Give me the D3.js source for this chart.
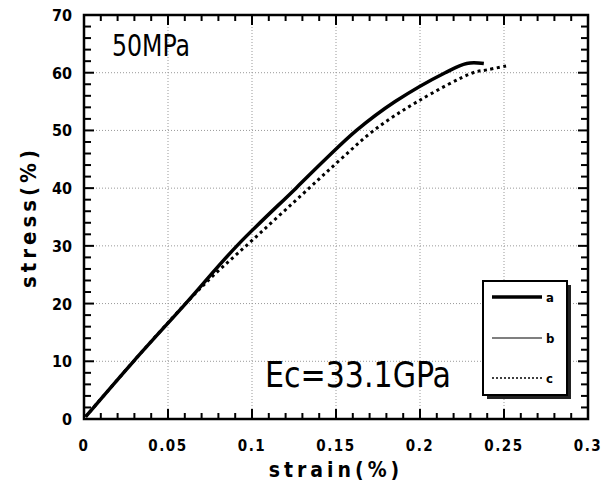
<!DOCTYPE html>
<html>
<head>
<meta charset="utf-8">
<script src="https://cdn.jsdelivr.net/npm/d3@7"></script>
<style>
  body { margin: 0; background: #fff; }
  text { font-family: "DejaVu Sans Condensed", "Liberation Sans Narrow", "DejaVu Sans", sans-serif; fill: #000; }
</style>
</head>
<body>
<div id="chart"></div>
<script>
// curve a (thick solid)
const curveA = [[0.001, 0.4], [0.0295, 10], [0.0605, 20], [0.0910, 30], [0.1262, 40], [0.1437, 45], [0.1622, 50], [0.1852, 55], [0.2150, 60], [0.2278, 61.6], [0.238, 61.6]];
// curve b (thin solid, lies under a)
const curveB = [[0.001, 0.4], [0.0295, 10], [0.0604, 20], [0.0908, 30], [0.1258, 40], [0.1434, 45], [0.1619, 50], [0.1849, 55], [0.2147, 60], [0.2275, 61.5], [0.2375, 61.5]];
// curve c (dotted)
const curveC = [[0.001, 0.4], [0.0295, 10], [0.0605, 20], [0.0775, 25], [0.0965, 30], [0.1340, 40], [0.1528, 45], [0.1725, 50], [0.1985, 55], [0.2316, 60], [0.2400, 60.5], [0.2516, 61.2]];

const xTicks = [0, 0.05, 0.1, 0.15, 0.2, 0.25, 0.3];
const xTickLabels = ['0', '0.05', '0.1', '0.15', '0.2', '0.25', '0.3'];
const yTicks = [0, 10, 20, 30, 40, 50, 60, 70];
const seriesNames = ['a', 'b', 'c'];

const width = 607, height = 493;
const margin = { left: 84, right: 19, top: 15, bottom: 74 };

const svg = d3.select('#chart').append('svg')
    .attr('width', width)
    .attr('height', height);

const x = d3.scaleLinear().domain([0, 0.3]).range([margin.left, width - margin.right]);
const y = d3.scaleLinear().domain([0, 70]).range([height - margin.bottom, margin.top]);

// grid
svg.append('g').selectAll('line')
    .data(xTicks.slice(1, -1))
    .join('line')
    .attr('x1', d => x(d)).attr('x2', d => x(d))
    .attr('y1', y(70)).attr('y2', y(0))
    .attr('stroke', '#999').attr('stroke-width', 1).attr('stroke-dasharray', '1,2');
svg.append('g').selectAll('line')
    .data(yTicks.slice(1, -1))
    .join('line')
    .attr('x1', x(0)).attr('x2', x(0.3))
    .attr('y1', d => y(d)).attr('y2', d => y(d))
    .attr('stroke', '#999').attr('stroke-width', 1).attr('stroke-dasharray', '1,2');

// inward ticks on all four sides
const xMinor = d3.range(0, 31).map(i => i / 100);
const yMinor = d3.range(0, 36).map(i => i * 2);
const tickG = svg.append('g').attr('stroke', '#000').attr('stroke-width', 2);
xMinor.forEach((v, i) => {
    const len = i % 5 === 0 ? 10 : 6;
    tickG.append('line').attr('x1', x(v)).attr('x2', x(v)).attr('y1', y(0)).attr('y2', y(0) - len);
    tickG.append('line').attr('x1', x(v)).attr('x2', x(v)).attr('y1', y(70)).attr('y2', y(70) + len);
});
yMinor.forEach((v, i) => {
    const len = i % 5 === 0 ? 10 : 7;
    tickG.append('line').attr('x1', x(0)).attr('x2', x(0) + len).attr('y1', y(v)).attr('y2', y(v));
    tickG.append('line').attr('x1', x(0.3)).attr('x2', x(0.3) - len).attr('y1', y(v)).attr('y2', y(v));
});

// frame
svg.append('rect')
    .attr('x', x(0)).attr('y', y(70))
    .attr('width', x(0.3) - x(0)).attr('height', y(0) - y(70))
    .attr('fill', 'none').attr('stroke', '#000').attr('stroke-width', 2.5);

// tick labels
svg.append('g').selectAll('text')
    .data(xTicks)
    .join('text')
    .attr('x', d => x(d)).attr('y', y(0) + 32)
    .attr('text-anchor', 'middle')
    .attr('font-size', 15).attr('font-weight', 'bold')
    .attr('letter-spacing', 1.5)
    .text((d, i) => xTickLabels[i]);
svg.append('g').selectAll('text')
    .data(yTicks)
    .join('text')
    .attr('x', x(0) - 12).attr('y', d => y(d) + 6)
    .attr('text-anchor', 'end')
    .attr('font-size', 16).attr('font-weight', 'bold')
    .text(d => d);

// axis titles
svg.append('text')
    .attr('x', (x(0) + x(0.3)) / 2).attr('y', 477)
    .attr('text-anchor', 'middle')
    .attr('font-size', 21).attr('font-weight', 'bold')
    .attr('letter-spacing', 4)
    .text('strain(%)');
svg.append('text')
    .attr('transform', `translate(36,${(y(0) + y(70)) / 2}) rotate(-90)`)
    .attr('text-anchor', 'middle')
    .attr('font-size', 22).attr('font-weight', 'bold')
    .attr('letter-spacing', 4)
    .text('stress(%)');

// curves
const line = d3.line().x(d => x(d[0])).y(d => y(d[1])).curve(d3.curveCatmullRom.alpha(0.5));
svg.append('path').datum(curveB).attr('d', line)
    .attr('fill', 'none').attr('stroke', '#000').attr('stroke-width', 1);
svg.append('path').datum(curveC).attr('d', line)
    .attr('fill', 'none').attr('stroke', '#000').attr('stroke-width', 3).attr('stroke-dasharray', '3,3.5');
svg.append('path').datum(curveA).attr('d', line)
    .attr('fill', 'none').attr('stroke', '#000').attr('stroke-width', 3.5);

// annotations
svg.append('text')
    .attr('x', 112).attr('y', 56)
    .attr('font-size', 31)
    .attr('textLength', 78).attr('lengthAdjust', 'spacingAndGlyphs')
    .text('50MPa');
svg.append('text')
    .attr('x', 265).attr('y', 387)
    .attr('font-size', 36)
    .attr('textLength', 186).attr('lengthAdjust', 'spacingAndGlyphs')
    .text('Ec=33.1GPa');

// legend
const lg = svg.append('g').attr('transform', 'translate(483,281)');
lg.append('rect').attr('x', 4).attr('y', 4).attr('width', 84).attr('height', 114).attr('fill', '#222');
lg.append('rect').attr('x', 0).attr('y', 0).attr('width', 84).attr('height', 114)
    .attr('fill', '#fff').attr('stroke', '#000').attr('stroke-width', 2);
const legendStyles = [
    { w: 3.5, dash: null, yy: 16 },
    { w: 1.2, dash: null, yy: 57 },
    { w: 1.5, dash: '2,2', yy: 97 }
];
seriesNames.forEach((name, i) => {
    const s = legendStyles[i];
    const ln = lg.append('line')
        .attr('x1', 9).attr('x2', 59)
        .attr('y1', s.yy).attr('y2', s.yy)
        .attr('stroke', '#000').attr('stroke-width', s.w);
    if (s.dash) ln.attr('stroke-dasharray', s.dash);
    lg.append('text')
        .attr('x', 63).attr('y', s.yy + 5)
        .attr('font-size', 13).attr('font-weight', 'bold')
        .text(name);
});
</script>
</body>
</html>
